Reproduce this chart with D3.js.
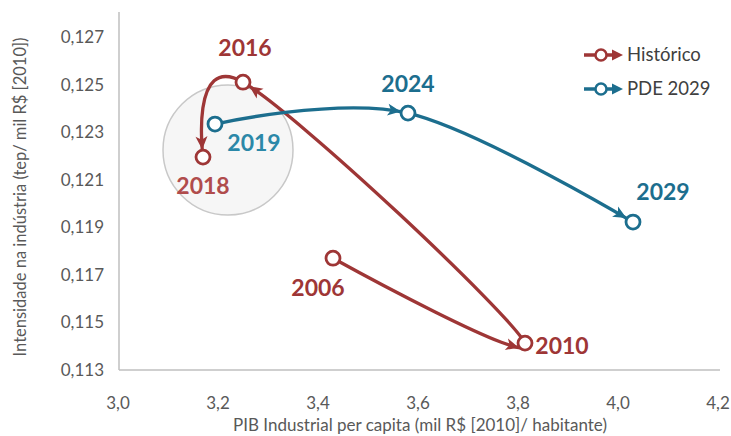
<!DOCTYPE html>
<html><head><meta charset="utf-8">
<script src="https://cdn.jsdelivr.net/npm/d3@7/dist/d3.min.js"></script>
<style>body{margin:0;background:#fff}svg{display:block}</style>
</head><body>
<svg id="c" width="731" height="436"></svg>
<script>
const histYears = ["2006","2010","2016","2018"];
const histX = [3.43, 3.814, 3.25, 3.17];
const histY = [0.1177, 0.11413, 0.1251, 0.12195];
const pdeYears = ["2019","2024","2029"];
const pdeX = [3.194, 3.58, 4.03];
const pdeY = [0.12334, 0.1238, 0.11922];
const xTicks = [3.0,3.2,3.4,3.6,3.8,4.0,4.2];
const yTicks = [0.113,0.115,0.117,0.119,0.121,0.123,0.125,0.127];
const highlight = {x: 3.22, y: 0.12225};
const seriesNames = ["Histórico","PDE 2029"];

const RED = "#9e3636", BLUE = "#1c6e8e";
const svg = d3.select("#c");
const x = d3.scaleLinear().domain([3.0,4.2]).range([118,718]);
const y = d3.scaleLinear().domain([0.113,0.127]).range([370,37]);
const fmt = (d,p)=>d.toFixed(p).replace(".",",");

// axes lines
svg.append("line").attr("x1",119).attr("x2",119).attr("y1",12).attr("y2",370).attr("stroke","#bfbfbf").attr("stroke-width",1.5);
svg.append("line").attr("x1",119).attr("x2",720).attr("y1",370).attr("y2",370).attr("stroke","#bfbfbf").attr("stroke-width",1.5);

const font = "Lato, 'Open Sans', sans-serif";
svg.selectAll(".yt").data(yTicks).join("text").attr("x",104).attr("y",d=>y(d)).attr("dy","0.35em")
  .attr("text-anchor","end").attr("font-family",font).attr("font-size",17).attr("fill","#595959").text(d=>fmt(d,3));
svg.selectAll(".xt").data(xTicks).join("text").attr("x",d=>x(d)).attr("y",403).attr("dy","0.35em")
  .attr("text-anchor","middle").attr("font-family",font).attr("font-size",17).attr("fill","#595959").text(d=>fmt(d,1));
svg.append("text").attr("x",420).attr("y",425).attr("dy","0.35em").attr("text-anchor","middle")
  .attr("font-family",font).attr("font-size",17).attr("fill","#595959").text("PIB Industrial per capita (mil R$ [2010]/ habitante)");
svg.append("text").attr("transform","translate(20,197) rotate(-90)").attr("dy","0.35em").attr("text-anchor","middle")
  .attr("font-family",font).attr("font-size",16.5).attr("fill","#595959").text("Intensidade na indústria (tep/ mil R$ [2010])");

// highlight circle
svg.append("circle").attr("cx",x(highlight.x)).attr("cy",y(highlight.y)).attr("r",65)
  .attr("fill","#ebebeb").attr("fill-opacity",0.45).attr("stroke","#c8c8c8").attr("stroke-width",1.5);

const R = 7;
function drawSeries(xs, ys, color){
  const pts = xs.map((v,i)=>[x(v), y(ys[i])]);
  const line = d3.line().curve(d3.curveCardinal.tension(0));
  const path = svg.append("path").attr("d", line(pts)).attr("fill","none").attr("stroke",color)
    .attr("stroke-width",3.3).attr("stroke-linecap","round");
  const node = path.node();
  const total = node.getTotalLength();
  const N = 2000; const samples=[];
  for(let k=0;k<=N;k++){const L=total*k/N; const p=node.getPointAtLength(L); samples.push([L,p.x,p.y]);}
  let startIdx = 0;
  pts.forEach((p,i)=>{
    if(i===0) return;
    let best=-1,bd=1e9;
    for(let k=startIdx;k<samples.length;k++){
      const d=Math.hypot(samples[k][1]-p[0],samples[k][2]-p[1]);
      if(d<bd){bd=d;best=k;}
      if(bd<0.5 && d>20) break;
    }
    startIdx=best;
    const Lp = samples[best][0];
    let tipL = Lp;
    for(let L=Lp; L>0; L-=0.25){const q=node.getPointAtLength(L); if(Math.hypot(q.x-p[0],q.y-p[1])>=R+0.5){tipL=L;break;}}
    const tip=node.getPointAtLength(tipL);
    const back=node.getPointAtLength(Math.max(0,tipL-12));
    const ang=Math.atan2(tip.y-back.y, tip.x-back.x);
    const len=13, w=6;
    const bx=tip.x-len*Math.cos(ang), by=tip.y-len*Math.sin(ang);
    const px=-Math.sin(ang)*w, py=Math.cos(ang)*w;
    svg.append("path").attr("d",`M${tip.x},${tip.y}L${bx+px},${by+py}L${bx+len*0.25*Math.cos(ang)},${by+len*0.25*Math.sin(ang)}L${bx-px},${by-py}Z`)
      .attr("fill",color);
  });
  svg.selectAll(null).data(pts).join("circle").attr("cx",d=>d[0]).attr("cy",d=>d[1]).attr("r",R)
    .attr("fill","#fff").attr("stroke",color).attr("stroke-width",2.8);
}
drawSeries(histX, histY, RED);
drawSeries(pdeX, pdeY, BLUE);

// labels
const labelFont = "Lato, 'Open Sans', sans-serif";
const histOff = [[-15,30],[37,3],[2,-34],[0,29]];
const histCol = [RED, RED, RED, "#b04c4c"];
histYears.forEach((t,i)=>{
  svg.append("text").attr("x",x(histX[i])+histOff[i][0]).attr("y",y(histY[i])+histOff[i][1]).attr("dy","0.35em")
    .attr("text-anchor","middle").attr("font-family",labelFont).attr("font-weight","bold").attr("font-size",23)
    .attr("fill",histCol[i]).text(t);
});
const pdeOff = [[39,19],[0,-29],[30,-30]];
const pdeCol = ["#2b88a8", BLUE, BLUE];
pdeYears.forEach((t,i)=>{
  svg.append("text").attr("x",x(pdeX[i])+pdeOff[i][0]).attr("y",y(pdeY[i])+pdeOff[i][1]).attr("dy","0.35em")
    .attr("text-anchor","middle").attr("font-family",labelFont).attr("font-weight","bold").attr("font-size",23)
    .attr("fill",pdeCol[i]).text(t);
});

// legend
[RED, BLUE].forEach((c,i)=>{
  const ly = 55 + i*34;
  const g = svg.append("g");
  g.append("line").attr("x1",584).attr("x2",616).attr("y1",ly).attr("y2",ly).attr("stroke",c).attr("stroke-width",3.5);
  g.append("path").attr("d",`M623,${ly}L612,${ly-5.5}L612,${ly+5.5}Z`).attr("fill",c);
  g.append("circle").attr("cx",601).attr("cy",ly).attr("r",5.5).attr("fill","#fff").attr("stroke",c).attr("stroke-width",2.5);
  g.append("text").attr("x",627).attr("y",ly).attr("dy","0.35em").attr("font-family",font).attr("font-size",18.5)
    .attr("fill","#404040").text(seriesNames[i]);
});
</script>
</body></html>
